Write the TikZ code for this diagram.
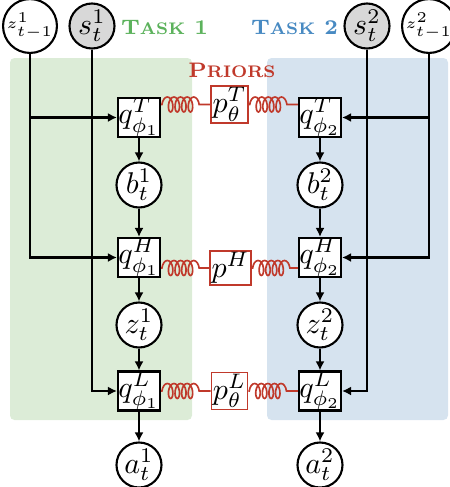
\documentclass[tikz,border=0pt]{standalone}
\usetikzlibrary{arrows.meta,decorations.pathmorphing}
\definecolor{bggreen}{RGB}{220,236,215}
\definecolor{bgblue}{RGB}{214,227,239}
\definecolor{taskgreen}{RGB}{92,178,92}
\definecolor{taskblue}{RGB}{72,138,194}
\definecolor{priorred}{RGB}{192,57,43}
\definecolor{obsgray}{RGB}{216,216,216}
% bold pseudo small caps: first letter full size, the rest scaled down
\newcommand{\capslabel}[2]{#1\scalebox{0.8}{#2}}

\begin{document}
\begin{tikzpicture}[x=0.3333pt,y=-0.3333pt,
  latent/.style={circle,draw,line width=0.7pt,fill=white,minimum size=15pt,inner sep=0pt},
  observed/.style={latent,fill=obsgray},
  prevstate/.style={latent,minimum size=16pt,font=\tiny},
  encoder/.style={draw,line width=0.7pt,fill=white,minimum width=14pt,minimum height=13pt,inner sep=0pt},
  prior/.style={draw=priorred,line width=0.55pt,fill=white,inner sep=0.5pt,minimum width=12pt},
  flow/.style={line width=0.7pt,-{Latex[length=3pt,width=3pt]}},
  spring/.style={draw=priorred,line width=0.55pt,decorate,
    decoration={coil,aspect=0.5,segment length=2.2pt,amplitude=2.5pt,pre length=0.3pt,post length=2.5pt}},
  tasklabel/.style={font=\scriptsize\bfseries}]
\useasboundingbox (0,0) rectangle (450,487);

% task panels
\fill[bggreen, rounded corners=1.5pt] (10,58) rectangle (192,420);
\fill[bgblue, rounded corners=1.5pt] (267,58) rectangle (448,420);

% headings
\node[tasklabel, text=taskgreen] (task1) at (164.5,28) {\capslabel{T}{ASK} 1};
\node[tasklabel, text=taskblue] (task2) at (294.5,28) {\capslabel{T}{ASK} 2};
\node[tasklabel, text=priorred] (priors) at (232,70) {\capslabel{P}{RIORS}};

% inputs
\node[prevstate] (zp1) at (30,26) {$z^1_{t-1}$};
\node[observed] (s1) at (92,26) {$s^1_t$};
\node[observed] (s2) at (367,26) {$s^2_t$};
\node[prevstate] (zp2) at (429,26) {$z^2_{t-1}$};

% task 1 chain
\node[encoder] (qT1) at (139,117.5) {$q^T_{\phi_1}$};
\node[latent] (b1) at (139,185) {$b^1_t$};
\node[encoder] (qH1) at (139,257.5) {$q^H_{\phi_1}$};
\node[latent] (z1) at (139,325) {$z^1_t$};
\node[encoder] (qL1) at (139,391) {$q^L_{\phi_1}$};
\node[latent] (a1) at (139,465) {$a^1_t$};

% task 2 chain
\node[encoder] (qT2) at (320,117.5) {$q^T_{\phi_2}$};
\node[latent] (b2) at (320,185) {$b^2_t$};
\node[encoder] (qH2) at (320,257.5) {$q^H_{\phi_2}$};
\node[latent] (z2) at (320,325) {$z^2_t$};
\node[encoder] (qL2) at (320,391) {$q^L_{\phi_2}$};
\node[latent] (a2) at (320,465) {$a^2_t$};

% shared priors
\node[prior] (pT) at (229.5,104.5) {$p^T_\theta$};
\node[prior] (pH) at (230.5,268) {$p^H$};
\node[prior] (pL) at (229.5,391) {$p^L_\theta$};

% prior couplings
\foreach \p/\l/\r in {pT/qT1/qT2, pH/qH1/qH2, pL/qL1/qL2}{
  \draw[spring] (\l.east |- \p.west) -- (\p.west);
  \draw[spring] (\p.east) -- (\r.west |- \p.east);
}

% vertical chains
\foreach \k in {1,2}{
  \draw[flow] (qT\k) -- (b\k);
  \draw[flow] (b\k) -- (qH\k);
  \draw[flow] (qH\k) -- (z\k);
  \draw[flow] (z\k) -- (qL\k);
  \draw[flow] (qL\k) -- (a\k);
}

% inputs into the encoders
\draw[flow] (zp1) |- (qH1);
\draw[flow] (zp1.south |- qT1) -- (qT1);
\draw[flow] (s1) |- (qL1);
\draw[flow] (zp2) |- (qH2);
\draw[flow] (zp2.south |- qT2) -- (qT2);
\draw[flow] (s2) |- (qL2);
\end{tikzpicture}
\end{document}
